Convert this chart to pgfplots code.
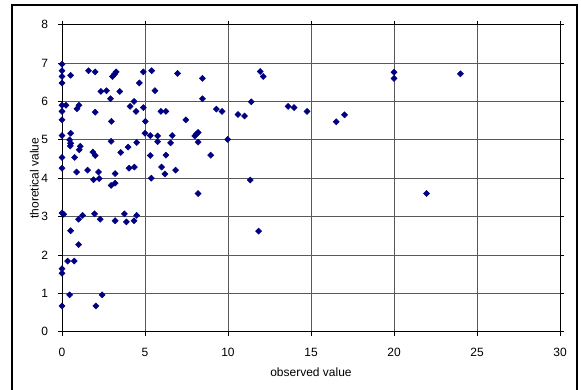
\documentclass[border=0pt]{standalone}
\usepackage{pgfplots}
\pgfplotsset{compat=1.18}
\usepackage{fontspec}
\setmainfont{Liberation Sans}
\definecolor{navy}{RGB}{0,0,128}
\begin{document}
\begin{tikzpicture}
\useasboundingbox (0pt,0pt) rectangle (435.75pt,291.75pt);
\fill[white] (0pt,0pt) rectangle (435.75pt,291.75pt);
\draw[black, line width=0.9pt] (9pt,-8pt) -- (9pt,288pt) -- (432.75pt,288pt) -- (432.75pt,-8pt);
\begin{axis}[
  at={(46.5pt,43pt)}, anchor=south west,
  scale only axis, width=373.5pt, height=230.25pt,
  xmin=0, xmax=30, ymin=0, ymax=8,
  xtick={0,5,...,30}, ytick={0,1,...,8},
  grid=major,
  major grid style={gray!70!black, line width=0.5pt},
  axis line style={black, line width=0.6pt},
  tick style={black, line width=0.5pt},
  major tick length=3pt,
  tick align=outside,
  every tick label/.append style={font=\fontsize{9}{10}\selectfont},
  /pgf/number format/assume math mode=true,
  xticklabel style={yshift=-6pt},
  yticklabel style={xshift=-4pt},
  xlabel={observed value}, ylabel={thoretical value},
  label style={font=\fontsize{9}{10}\selectfont},
  xlabel style={yshift=-1pt},
  ylabel style={yshift=-5pt},
]
\addplot[only marks, mark=square*, mark size=1.6pt, mark options={rotate=45, fill=navy, draw=navy}] coordinates {
(0,6.97) (0,6.8) (0,6.65) (0,6.48) (0.52,6.68) (1.6,6.8) (2.0,6.77) (3.04,6.65) (3.16,6.71) (3.26,6.77)
(4.9,6.77) (5.4,6.8) (6.96,6.73) (4.66,6.48) (2.34,6.26) (2.68,6.28) (3.48,6.26) (5.6,6.28) (2.92,6.07)
(0,5.9) (0.24,5.9) (0.9,5.81) (1.02,5.9) (2.0,5.72) (0,5.74) (0,5.52) (4.1,5.87) (4.34,6.0) (4.46,5.74)
(4.9,5.84) (5.96,5.74) (6.26,5.74) (7.46,5.52) (2.98,5.48) (5.02,5.48) (0,5.11) (0.52,5.17) (5.0,5.17)
(5.32,5.11) (5.76,5.1) (6.64,5.11) (8.0,5.1) (8.1,5.15) (8.2,5.19) (8.2,4.94) (0.46,5.0) (0.52,4.91)
(0.5,4.84) (2.96,4.96) (4.5,4.93) (5.76,4.95) (6.54,4.92) (1.1,4.83) (1.04,4.74) (1.86,4.68) (2.0,4.59)
(3.54,4.67) (3.98,4.81) (5.32,4.59) (6.26,4.6) (0,4.54) (0.76,4.54) (0,4.26) (0.88,4.16) (1.54,4.21)
(2.2,4.16) (3.2,4.12) (4.04,4.26) (4.36,4.29) (6.0,4.29) (6.2,4.11) (6.84,4.21) (1.9,3.96) (2.24,3.99)
(5.38,4.0) (8.46,6.6) (8.46,6.07) (9.3,5.8) (9.64,5.74) (10.6,5.66) (11.0,5.62) (11.4,5.99) (11.94,6.78)
(12.12,6.65) (13.62,5.87) (13.98,5.84) (14.76,5.74) (9.98,5.01) (8.96,4.6) (8.2,3.6) (11.34,3.95)
(11.84,2.62) (20,6.76) (20,6.6) (24.0,6.72) (16.52,5.47) (17.02,5.65) (21.96,3.6) (3.2,3.87) (2.96,3.81)
(0,3.09) (0.1,3.06) (1.0,2.93) (1.24,3.03) (1.96,3.07) (2.3,2.93) (3.2,2.89) (3.76,3.07) (3.88,2.86)
(4.34,2.89) (4.5,3.03) (0.52,2.63) (1.0,2.27) (0.34,1.84) (0.74,1.84) (0,1.64) (0,1.52) (0.46,0.96)
(2.42,0.96) (0,0.67) (2.04,0.67)
};
\end{axis}
\end{tikzpicture}
\end{document}
